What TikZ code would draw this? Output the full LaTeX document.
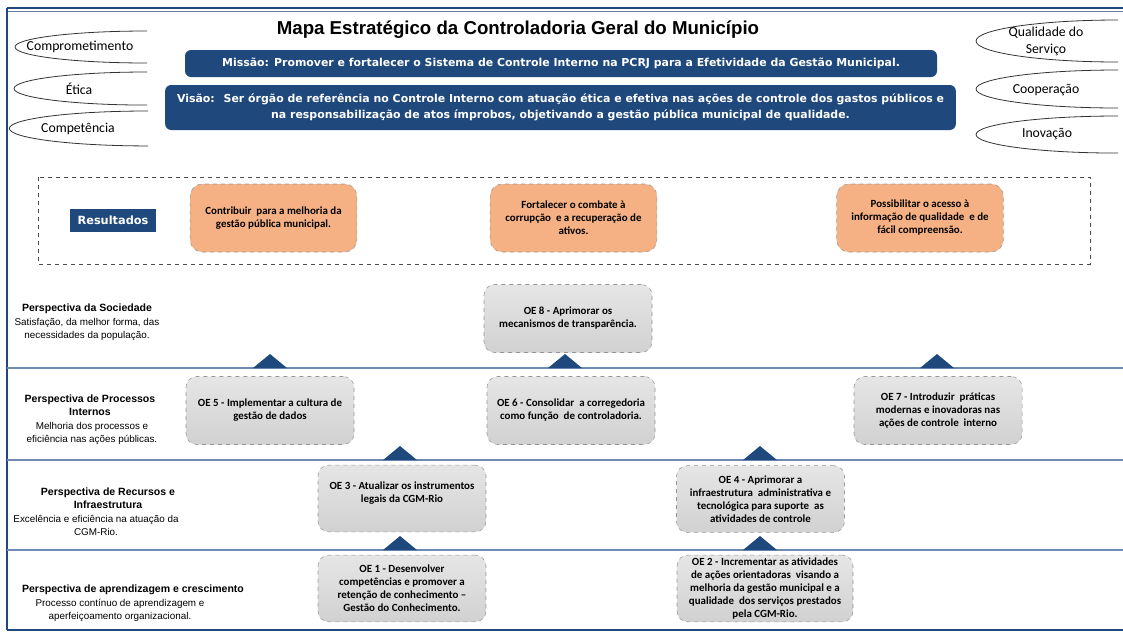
\documentclass[tikz,border=0pt]{standalone}
\usepackage{fontspec}
\setmainfont{Carlito}
\newfontfamily\arialfont{Liberation Sans}
\newfontfamily\tahomafont{DejaVu Sans}
\usetikzlibrary{positioning,calc}
\definecolor{cgmblue}{RGB}{31,73,125}
\definecolor{cgmline}{RGB}{110,140,178}
\definecolor{cgmorange}{RGB}{245,177,131}
\definecolor{cgmgray}{RGB}{150,150,150}

\begin{document}
\begin{tikzpicture}[x=0.75pt,y=-0.75pt,
valor/.style={
  font=\fontsize{10.3}{12.75}\selectfont,
  align=center,
  inner sep=0pt},
faixa/.style={
  fill=cgmblue,
  text=white,
  rounded corners=4.5pt,
  align=center,
  font=\tahomafont\bfseries\fontsize{8.2}{12}\selectfont},
resultado/.style={
  draw=cgmgray, dashed,
  fill=cgmorange,
  rounded corners=9pt,
  minimum width=125pt, minimum height=51pt,
  align=center, inner sep=1pt,
  font=\bfseries\fontsize{8.2}{9.75}\selectfont},
objetivo/.style={
  draw=cgmgray, dashed,
  top color=gray!20, bottom color=gray!36,
  rounded corners=8pt,
  minimum width=126pt, minimum height=51pt,
  align=center, inner sep=1pt,
  font=\bfseries\fontsize{8.2}{9.75}\selectfont},
phead/.style={
  font=\arialfont\bfseries\fontsize{7.9}{9.75}\selectfont,
  align=center, inner sep=0pt},
pdesc/.style={
  font=\arialfont\fontsize{7.4}{9.75}\selectfont,
  align=center, inner sep=0pt}
]
\useasboundingbox (0,0) rectangle (1123,633);
% moldura
\draw[cgmblue,line width=1.2pt] (7,8) -- (1123,8);
\draw[cgmblue!70,line width=0.6pt] (7,11) -- (1123,11);
\draw[cgmblue,line width=0.8pt] (7,8) -- (7,630);
\draw[cgmblue,line width=1.8pt] (6.5,630) -- (1123,630);
% faixas das perspectivas
\foreach \ly in {368,460,550}
  \draw[cgmline,line width=1.1pt] (7,\ly) -- (1123,\ly);
\foreach \px/\py in {270/368,565/368,937/368,400/460,760/460,400/550,760/550}
  \fill[cgmblue] (\px-17,\py) -- (\px,\py-14) -- (\px+17,\py) -- cycle;
% valores
\foreach \ex/\ey/\rx/\ry in {147/31/99/12,147/72/99.75/12.4,148/111/104/13.1,
    1118/20/106.5/15.75,1118/70/106.5/14.25,1118/116/106.5/13.9}
  \draw[black!80,line width=0.6pt] (\ex,\ey)
    arc[start angle=90,end angle=270,x radius=\rx pt,y radius=\ry pt];
\node[valor] (com) at (80,47) {Comprometimento};
\node[valor] (eti) at (79,89) {Ética};
\node[valor] (cpt) at (78,129) {Competência};
\node[valor] (qua) at (1046,41) {Qualidade do\\Serviço};
\node[valor] (coo) at (1046,90) {Cooperação};
\node[valor] (ino) at (1047,134) {Inovação};
% titulo, missao e visao
\node[font=\arialfont\bfseries\fontsize{14}{16}\selectfont] (titulo) at (518,30)
  {Mapa Estratégico da Controladoria Geral do Município};
\node[faixa,minimum width=564pt,minimum height=20.25pt] (missao) at (561,63.5)
  {Missão: Promover e fortalecer o Sistema de Controle Interno na PCRJ para a Efetividade da Gestão Municipal.};
\node[faixa,minimum width=593pt,minimum height=33.75pt] (visao) at (560.5,107.5)
  {Visão:~ Ser órgão de referência no Controle Interno com atuação ética e efetiva nas ações de controle dos gastos públicos e\\
   na responsabilização de atos ímprobos, objetivando a gestão pública municipal de qualidade.};
% resultados
\draw[dashed,black!70,line width=0.5pt] (38,177) rectangle (1090,264);
\node[fill=cgmblue,text=white,minimum width=64.5pt,minimum height=17.25pt,
  font=\tahomafont\bfseries\fontsize{8.5}{10}\selectfont] (resul) at (113,220.5) {Resultados};
\node[resultado] (r1) at (273.5,218) {Contribuir~ para a melhoria da\\gestão pública municipal.};
\node[resultado] (r2) at (573.5,218) {Fortalecer o combate à\\corrupção~ e a recuperação de\\ativos.};
\node[resultado] (r3) at (920,218) {Possibilitar o acesso à\\informação de qualidade~ e de\\fácil compreensão.};
% perspectivas
\node[phead] (hsoc) at (87,309) {Perspectiva da Sociedade};
\node[pdesc,below=2.7pt of hsoc] (dsoc) {Satisfação, da melhor forma, das\\necessidades da população.};
\node[phead] (hpro) at (90,405.5) {Perspectiva de Processos\\Internos};
\node[pdesc,below=4.3pt of hpro,xshift=1.5pt] (dpro) {Melhoria dos processos e\\eficiência nas ações públicas.};
\node[phead] (hrec) at (108,498.5) {Perspectiva de Recursos e\\Infraestrutura};
\node[pdesc,below=4.3pt of hrec,xshift=-9pt] (drec) {Excelência e eficiência na atuação da\\CGM-Rio.};
\node[phead] (hapr) at (133,590) {Perspectiva de aprendizagem e crescimento};
\node[pdesc,below=2.7pt of hapr,xshift=-9.75pt] (dapr) {Processo contínuo de aprendizagem e\\aperfeiçoamento organizacional.};
% objetivos estrategicos
\node[objetivo] (oe8) at (568,318.5) {OE 8 - Aprimorar os\\mecanismos de transparência.};
\node[objetivo] (oe5) at (270,410.5) {OE 5 - Implementar a cultura de\\gestão de dados};
\node[objetivo] (oe6) at (571,410.5) {OE 6 - Consolidar~ a corregedoria\\como função~ de controladoria.};
\node[objetivo] (oe7) at (938,410.5) {OE 7 - Introduzir~ práticas\\modernas e inovadoras nas\\ações de controle~ interno};
\node[objetivo,minimum height=50pt] (oe3) at (402,498.5) {OE 3 - Atualizar os instrumentos\\legais da CGM-Rio\\[0pt]};
\node[objetivo,minimum height=50pt] (oe4) at (760.5,499) {OE 4 - Aprimorar a\\infraestrutura~ administrativa e\\tecnológica para suporte~ as\\atividades de controle};
\node[objetivo,minimum height=50pt] (oe1) at (402,588.5) {OE 1 - Desenvolver\\competências e promover a\\retenção de conhecimento –\\Gestão do Conhecimento.};
\node[objetivo,minimum height=50pt,minimum width=132pt] (oe2) at (765,588.5) {OE 2 - Incrementar as atividades\\de ações orientadoras~ visando a\\melhoria da gestão municipal e a\\qualidade~ dos serviços prestados\\pela CGM-Rio.};
\end{tikzpicture}
\end{document}
